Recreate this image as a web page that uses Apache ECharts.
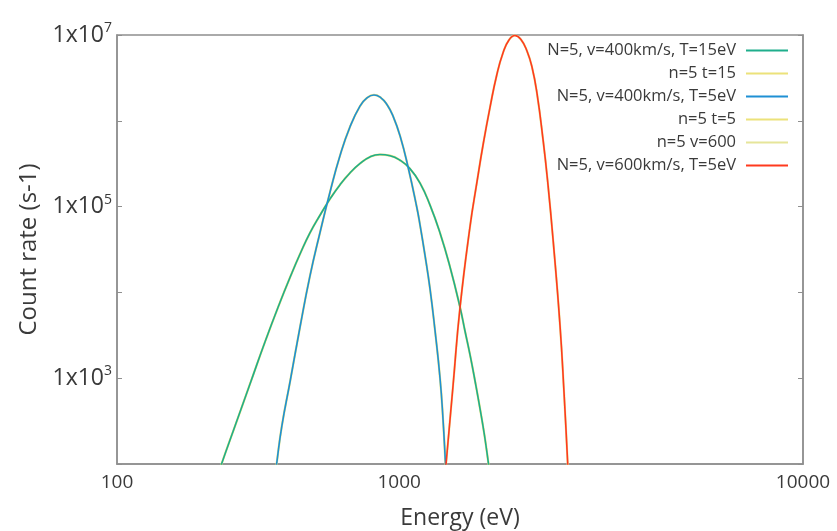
<!DOCTYPE html>
<html>
<head>
<meta charset="utf-8">
<script src="https://cdn.jsdelivr.net/npm/echarts@6/dist/echarts.min.js"></script>
<style>
html,body{margin:0;padding:0;background:#fff;}
#chart{width:837px;height:531px;}
</style>
</head>
<body>
<div id="chart"></div>
<script>
// ---- data ----
const xTickLabels = ['100', '1000', '10000'];
const yLabelExponents = [3, 5, 7];

const seriesNames = [
  'N=5, v=400km/s, T=15eV',
  'n=5 t=15',
  'N=5, v=400km/s, T=5eV',
  'n=5 t=5',
  'n=5 v=600',
  'N=5, v=600km/s, T=5eV'
];

// N=5, v=400km/s, T=15eV
const t15Energy = [356, 363, 392, 427, 465, 507, 537, 568, 601, 637, 674, 713, 755, 800, 846, 896, 949, 1005, 1063, 1126, 1192, 1262, 1336, 1414, 1455, 1498, 1541, 1586, 1627, 1664, 1688];
const t15Counts = [74.5, 100, 277, 856, 2640, 7730, 15100, 28000, 49300, 79800, 123000, 179000, 246000, 318000, 379000, 404000, 392000, 347000, 277000, 188000, 104000, 49300, 19800, 6760, 3550, 1860, 928, 437, 212, 100, 61.7];

// N=5, v=400km/s, T=5eV
const t5Energy = [490, 497, 512, 537, 568, 601, 637, 674, 713, 755, 800, 832, 866, 901, 933, 965, 1005, 1053, 1105, 1126, 1158, 1192, 1226, 1262, 1284, 1302, 1313];
const t5Counts = [58.5, 100, 277, 928, 3950, 15500, 50600, 148000, 389000, 847000, 1490000, 1850000, 2000000, 1850000, 1540000, 1140000, 665000, 282000, 98900, 61000, 27300, 11000, 3650, 1000, 326, 100, 49.8];

// N=5, v=600km/s, T=5eV
const v600Energy = [1291, 1306, 1359, 1414, 1498, 1558, 1616, 1679, 1744, 1807, 1870, 1935, 2002, 2072, 2132, 2193, 2274, 2336, 2407, 2501, 2559, 2614, 2633];
const v600Counts = [55.4, 100, 811, 6580, 59400, 194000, 551000, 1450000, 3420000, 6170000, 8750000, 9870000, 8860000, 6510000, 4240000, 2110000, 571000, 179000, 39000, 4170, 690, 100, 49.8];

function pairs(xs, ys) { return xs.map((x, i) => [x, ys[i]]); }

const chart = echarts.init(document.getElementById('chart'));
const FONT = 'Open Sans';
const axisColor = '#8f8f8f';
const textColor = '#3a3a3a';

function lineSeries(name, xs, ys, color, width, z) {
  return {
    name: name, type: 'line', data: pairs(xs, ys), smooth: 0.5,
    showSymbol: false, symbol: 'none', clip: true, z: z,
    lineStyle: { color: color, width: width }, itemStyle: { color: color },
    emphasis: { disabled: true }, silent: true
  };
}

chart.setOption({
  animation: false,
  backgroundColor: '#ffffff',
  grid: {
    left: 117, right: 34, top: 35, bottom: 67, outerBoundsMode: 'none', containLabel: false,
    show: true, borderColor: axisColor, borderWidth: 1.5, backgroundColor: '#fff'
  },
  legend: {
    orient: 'vertical', right: 49, top: 41, align: 'right', padding: 0,
    icon: 'rect', itemWidth: 42, itemHeight: 2, itemGap: 4,
    textStyle: { fontFamily: FONT, fontSize: 16.5, color: textColor, lineHeight: 19, padding: [0, 5, 0, 0] },
    data: seriesNames
  },
  xAxis: {
    type: 'log', logBase: 10, min: 200, max: 10000,
    name: 'Energy (eV)', nameLocation: 'middle', nameGap: 43,
    nameTextStyle: { fontFamily: FONT, fontSize: 23, color: textColor },
    axisLine: { show: true, lineStyle: { color: axisColor, width: 1.5 } },
    axisTick: { show: false }, splitLine: { show: false }, minorTick: { show: false },
    axisLabel: {
      showMinLabel: true, showMaxLabel: true, margin: 9,
      fontFamily: FONT, fontSize: 19, color: textColor,
      formatter: function (v, i) { return xTickLabels[i] !== undefined ? xTickLabels[i] : ''; }
    }
  },
  yAxis: [{
    type: 'log', logBase: 10, min: 100, max: 10000000,
    name: 'Count rate (s-1)', nameLocation: 'middle', nameGap: 76, nameRotate: 90,
    nameTextStyle: { fontFamily: FONT, fontSize: 24, color: textColor },
    axisLine: { show: true, lineStyle: { color: axisColor, width: 1.5 } },
    axisTick: { show: true, inside: true, length: 5, lineStyle: { color: axisColor } },
    splitLine: { show: false },
    axisLabel: {
      margin: 5, showMinLabel: true, showMaxLabel: true,
      formatter: function (v) {
        const e = Math.round(Math.log10(v));
        return yLabelExponents.indexOf(e) >= 0 ? '{b|1x10}{sup|' + e + '}' : '';
      },
      rich: {
        b: { fontFamily: FONT, fontSize: 23, color: textColor, lineHeight: 28 },
        sup: { fontFamily: FONT, fontSize: 14, color: textColor, lineHeight: 14, verticalAlign: 'top' }
      }
    }
  }, {
    type: 'log', logBase: 10, min: 100, max: 10000000, position: 'right',
    axisLine: { show: true, lineStyle: { color: axisColor, width: 1.5 } },
    axisTick: { show: true, inside: true, length: 5, lineStyle: { color: axisColor } },
    axisLabel: { show: false }, splitLine: { show: false }
  }],
  series: [
    lineSeries(seriesNames[1], t15Energy, t15Counts, '#ece27a', 2.2, 2),
    lineSeries(seriesNames[3], t5Energy, t5Counts, '#ece27a', 2.2, 2),
    lineSeries(seriesNames[4], v600Energy, v600Counts, '#e6e59a', 2.2, 2),
    lineSeries(seriesNames[0], t15Energy, t15Counts, '#1fae8c', 1.6, 3),
    lineSeries(seriesNames[2], t5Energy, t5Counts, '#1f90d4', 1.6, 3),
    lineSeries(seriesNames[5], v600Energy, v600Counts, '#ff3a1e', 1.6, 4)
  ]
});
</script>
</body>
</html>
